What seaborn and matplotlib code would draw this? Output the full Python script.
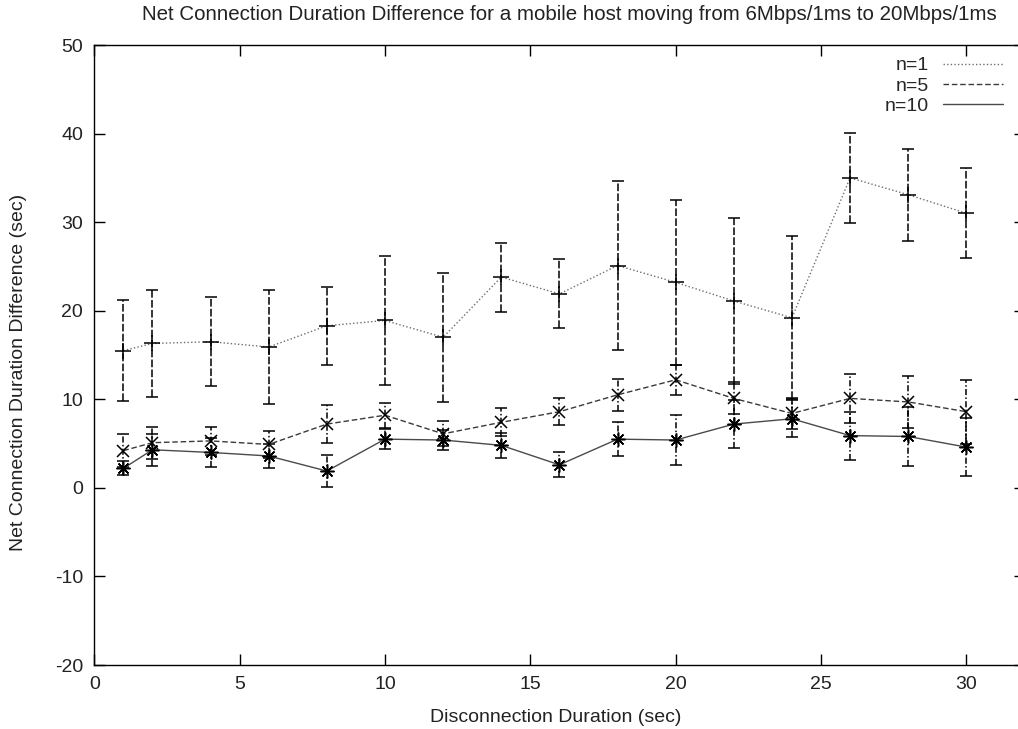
import matplotlib
matplotlib.use("Agg")
import matplotlib.pyplot as plt
from matplotlib.lines import Line2D
import pandas as pd
import seaborn as sns

# Disconnection durations (sec) and measured net connection duration differences (sec)
duration = [1, 2, 4, 6, 8, 10, 12, 14, 16, 18, 20, 22, 24, 26, 28, 30]
n1_mean = [15.5, 16.3, 16.5, 15.9, 18.3, 18.9, 17.0, 23.8, 21.9, 25.1, 23.2, 21.1, 19.2, 35.0, 33.1, 31.0]
n1_err = [5.7, 6.0, 5.0, 6.4, 4.4, 7.3, 7.3, 3.9, 3.9, 9.5, 9.3, 9.4, 9.2, 5.1, 5.2, 5.1]
n5_mean = [4.2, 5.1, 5.3, 4.9, 7.2, 8.2, 6.1, 7.4, 8.6, 10.5, 12.2, 10.1, 8.4, 10.1, 9.7, 8.6]
n5_err = [1.9, 1.8, 1.6, 1.5, 2.1, 1.4, 1.4, 1.6, 1.5, 1.8, 1.7, 1.8, 1.8, 2.8, 2.9, 3.6]
n10_mean = [2.2, 4.3, 4.0, 3.6, 1.9, 5.5, 5.4, 4.8, 2.6, 5.5, 5.4, 7.2, 7.8, 5.9, 5.8, 4.6]
n10_err = [0.8, 1.8, 1.6, 1.4, 1.8, 1.1, 1.1, 1.4, 1.4, 1.9, 2.8, 2.7, 2.1, 2.7, 3.3, 3.3]

series_labels = ["n=1", "n=5", "n=10"]
x_ticks = [0, 5, 10, 15, 20, 25, 30]
y_ticks = [-20, -10, 0, 10, 20, 30, 40, 50]

title = "Net Connection Duration Difference for a mobile host moving from 6Mbps/1ms to 20Mbps/1ms"
x_label = "Disconnection Duration (sec)"
y_label = "Net Connection Duration Difference (sec)"

sns.set_style("ticks")
plt.rcParams["font.family"] = ["Liberation Sans", "DejaVu Sans"]
plt.rcParams["axes.edgecolor"] = "black"
plt.rcParams["axes.linewidth"] = 1.0

frames = []
for label, mean, err in zip(series_labels, [n1_mean, n5_mean, n10_mean], [n1_err, n5_err, n10_err]):
    frames.append(pd.DataFrame({"duration": duration, "diff": mean, "err": err, "series": label}))
df = pd.concat(frames, ignore_index=True)

styles = {
    "n=1": dict(color="#6e6e6e", linestyle=(0, (1, 1.6)), marker="+", markersize=11),
    "n=5": dict(color="#3a3a3a", linestyle=(0, (4, 2)), marker="x", markersize=8),
    "n=10": dict(color="#4a4a4a", linestyle="-", marker=(8, 2, 0), markersize=10),
}
bar_styles = {
    "n=1": (0, (5, 1.5)),
    "n=5": (0, (4, 1.5, 1, 1.5)),
    "n=10": (0, (4, 1.5, 1, 1.5)),
}

fig = plt.figure(figsize=(10.18, 7.29), dpi=100)
W, H = 1018, 729
ax = fig.add_axes([94.3 / W, (H - 665) / H, (1024.5 - 94.3) / W, (665 - 45) / H])

for label in series_labels:
    sub = df[df["series"] == label]
    st = styles[label]
    eb = ax.errorbar(sub["duration"], sub["diff"], yerr=sub["err"], fmt="none",
                     ecolor="black", elinewidth=1.1, capsize=4, capthick=1.1, zorder=2)
    eb[2][0].set_linestyle(bar_styles[label])
    sns.lineplot(data=sub, x="duration", y="diff", ax=ax, sort=True, legend=False,
                 color=st["color"], linestyle=st["linestyle"], linewidth=1.0,
                 marker=st["marker"], markersize=st["markersize"],
                 markeredgecolor="black", markeredgewidth=1.1, zorder=3)

ax.set_xlim(0, 32)
ax.set_ylim(-20, 50)
ax.set_xticks(x_ticks)
ax.set_yticks(y_ticks)
ax.set_xticklabels([str(t) for t in x_ticks])
ax.set_yticklabels([str(t) for t in y_ticks])
ax.tick_params(direction="in", length=8, width=1, top=True, right=True,
               labelsize=14, pad=8, colors="black", labelcolor="#222222")
for sp in ax.spines.values():
    sp.set_visible(True)
    sp.set_color("black")
    sp.set_linewidth(1.0)

ax.set_xlabel(x_label, fontsize=14, color="#222222")
ax.set_ylabel(y_label, fontsize=14, color="#222222")
ax.xaxis.set_label_coords((555.5 - 94.3) / 930.2, (665 - 709) / 620)
ax.yaxis.label.set_verticalalignment("center")
ax.yaxis.set_label_coords((19 - 94.3) / 930.2, (665 - 372) / 620)

fig.text(569 / W, 1 - 15 / H, title, ha="center", va="center", fontsize=14.8, color="#222222")

handles = [Line2D([], [], color=styles[l]["color"], linestyle=styles[l]["linestyle"], linewidth=1.0)
           for l in series_labels]
ax.legend(handles, series_labels, loc="upper right", bbox_to_anchor=(0.977, 0.981),
          frameon=False, markerfirst=False, fontsize=14, handlelength=3.1,
          handletextpad=0.7, labelspacing=0.13, borderpad=0, borderaxespad=0)

fig.savefig("out.png", dpi=100)
